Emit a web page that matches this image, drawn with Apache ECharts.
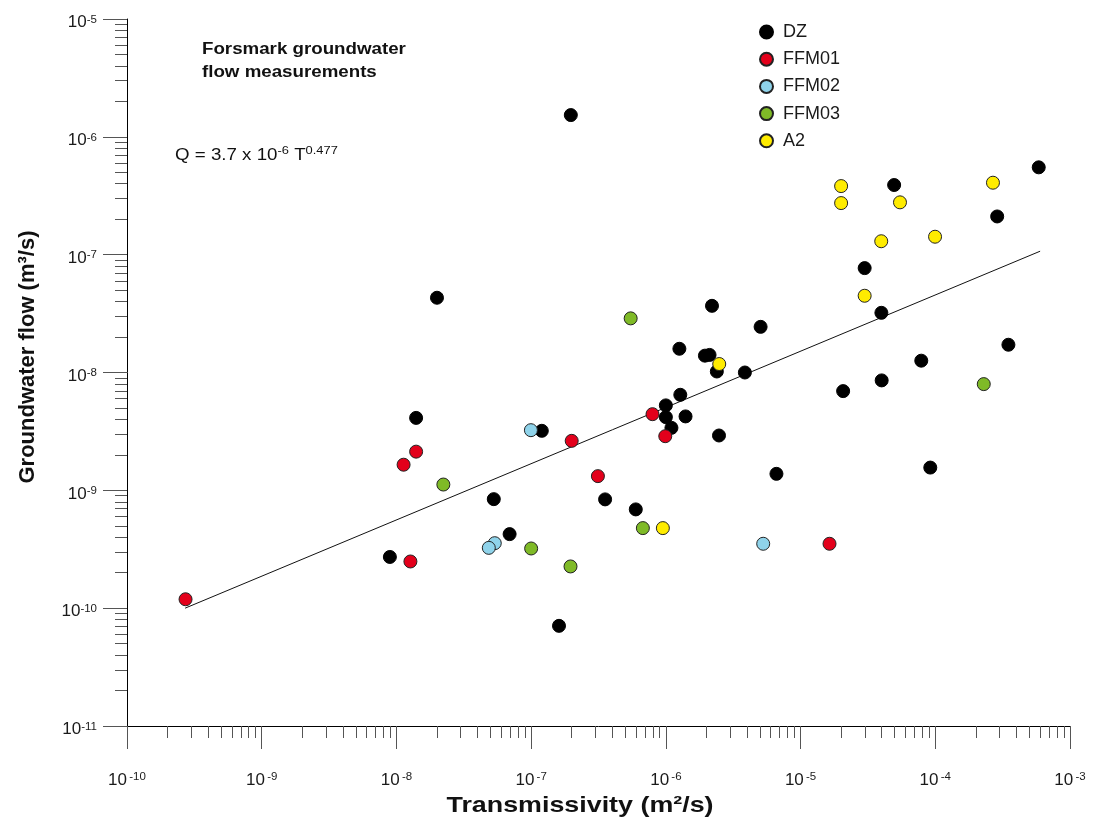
<!DOCTYPE html>
<html><head><meta charset="utf-8">
<script src="https://cdn.jsdelivr.net/npm/echarts@6/dist/echarts.min.js"></script>
<style>html,body{margin:0;padding:0;background:#fff}#chart{width:1094px;height:823px}</style>
</head><body><div id="chart"></div>
<script>
// ---- data ----
const dzT  = [1.97e-7, 2.0e-8, 1.40e-8, 1.20e-7, 5.28e-8, 8.94e-9, 6.92e-8, 1.61e-7, 3.54e-7, 5.98e-7, 2.99e-5, 3.98e-5, 2.20e-6, 5.05e-6, 1.26e-6, 1.95e-6, 2.11e-6, 2.39e-6, 3.86e-6, 1.28e-6, 1.00e-6, 1.00e-6, 1.40e-6, 1.10e-6, 2.48e-6, 6.62e-6, 2.07e-5, 4.0e-5, 7.87e-5, 3.49e-4, 9.18e-5, 4.95e-5, 5.86e-4, 2.88e-4];
const dzQ  = [1.53e-6, 4.31e-8, 4.12e-9, 3.20e-9, 8.42e-10, 2.72e-10, 4.25e-10, 7.08e-11, 8.38e-10, 6.89e-10, 7.69e-8, 3.21e-8, 3.68e-8, 2.44e-8, 1.59e-8, 1.39e-8, 1.41e-8, 1.02e-8, 1.00e-8, 6.47e-9, 5.26e-9, 4.18e-9, 4.24e-9, 3.39e-9, 2.92e-9, 1.38e-9, 6.95e-9, 8.57e-9, 1.26e-8, 1.72e-8, 1.56e-9, 3.90e-7, 5.51e-7, 2.11e-7];
const ffm01T = [2.72e-10, 1.13e-8, 1.40e-8, 1.27e-8, 2.0e-7, 3.13e-7, 7.96e-7, 9.9e-7, 1.64e-5];
const ffm01Q = [1.19e-10, 1.65e-9, 2.13e-9, 2.49e-10, 2.63e-9, 1.32e-9, 4.43e-9, 2.88e-9, 3.52e-10];
const ffm02T = [9.96e-8, 5.37e-8, 4.85e-8, 5.28e-6];
const ffm02Q = [3.24e-9, 3.56e-10, 3.25e-10, 3.52e-10];
const ffm03T = [2.23e-8, 1.0e-7, 1.96e-7, 6.75e-7, 5.48e-7, 2.29e-4];
const ffm03Q = [1.12e-9, 3.21e-10, 2.26e-10, 4.78e-10, 2.88e-8, 7.97e-9];
const a2T = [2.0e-5, 2.0e-5, 5.47e-5, 2.68e-4, 3.97e-5, 9.96e-5, 2.99e-5, 2.49e-6, 9.5e-7];
const a2Q = [3.82e-7, 2.74e-7, 2.78e-7, 4.08e-7, 1.30e-7, 1.42e-7, 4.48e-8, 1.18e-8, 4.78e-10];
const fitT = [2.7e-10, 6.0e-4];
const fitQ = [1.0e-10, 1.07e-7];
const seriesNames = ['DZ', 'FFM01', 'FFM02', 'FFM03', 'A2'];
const xExponents = [-10, -9, -8, -7, -6, -5, -4, -3];
const yExponents = [-11, -10, -9, -8, -7, -6, -5];
const minorMultipliers = [2, 3, 4, 5, 6, 7, 8, 9];

// ---- build ----
const FONT = 'Liberation Sans, Arial, Helvetica, sans-serif';
const pts = (T, Q) => T.map((t, i) => [Math.log10(t), Math.log10(Q[i])]);
const minorOf = exps => {
  const out = [];
  for (let i = 0; i < exps.length - 1; i++)
    minorMultipliers.forEach(m => out.push(exps[i] + Math.log10(m)));
  return out;
};
const colors = ['#000000', '#e3001b', '#8fd3ea', '#7fba27', '#ffec00'];
const dataSets = [pts(dzT, dzQ), pts(ffm01T, ffm01Q), pts(ffm02T, ffm02Q), pts(ffm03T, ffm03Q), pts(a2T, a2Q)];

const labRich = {
  b: {fontSize: 17, fontFamily: FONT, color: '#1a1a1a', lineHeight: 22},
  sp: {fontSize: 8, fontFamily: FONT, lineHeight: 22},
  e: {fontSize: 11.5, fontFamily: FONT, color: '#1a1a1a', verticalAlign: 'top', lineHeight: 13, padding: [2, 0, 0, 0]}
};
const tickStyle = {color: '#555', width: 1};
const SX = 1.17; // horizontal stretch of the reference's text

const chart = echarts.init(document.getElementById('chart'), null, {renderer: 'canvas'});
const option = {
  backgroundColor: '#fff',
  animation: false,
  grid: {left: 127, right: 24, top: 19, bottom: 97, containLabel: false},
  xAxis: [
    {type: 'value', min: xExponents[0], max: xExponents[xExponents.length - 1], interval: 1, position: 'bottom',
     axisLine: {show: true, lineStyle: {color: '#000', width: 1}},
     axisTick: {show: true, length: 23, lineStyle: tickStyle},
     splitLine: {show: false},
     axisLabel: {margin: 43, formatter: v => '{b|10}{sp| }{e|' + v + '}', rich: labRich}},
    {type: 'value', min: xExponents[0], max: xExponents[xExponents.length - 1], position: 'bottom',
     axisLine: {show: false},
     axisTick: {show: true, length: 12, lineStyle: tickStyle, customValues: minorOf(xExponents)},
     axisLabel: {show: false}, splitLine: {show: false}}
  ],
  yAxis: [
    {type: 'value', min: yExponents[0], max: yExponents[yExponents.length - 1], interval: 1, position: 'left',
     axisLine: {show: true, lineStyle: {color: '#000', width: 1}},
     axisTick: {show: true, length: 24, lineStyle: tickStyle},
     splitLine: {show: false},
     axisLabel: {margin: 30, padding: [7, 0, 0, 0], formatter: v => '{b|10}{e|' + v + '}', rich: labRich}},
    {type: 'value', min: yExponents[0], max: yExponents[yExponents.length - 1], position: 'left',
     axisLine: {show: false},
     axisTick: {show: true, length: 12, lineStyle: tickStyle, customValues: minorOf(yExponents)},
     axisLabel: {show: false}, splitLine: {show: false}}
  ],
  legend: {
    orient: 'vertical', left: 759, top: 23, padding: 0,
    itemWidth: 13, itemHeight: 13, itemGap: 9.2,
    data: seriesNames,
    textStyle: {fontSize: 18, fontFamily: FONT, color: '#1a1a1a', lineHeight: 14, padding: [0, 0, 0, 5]}
  },
  series: [
    {type: 'line', name: 'fit', data: pts(fitT, fitQ), showSymbol: false, symbol: 'none',
     lineStyle: {color: '#111', width: 1}, z: 1, silent: true}
  ].concat(seriesNames.map((n, i) => ({
    type: 'scatter', name: n, data: dataSets[i], symbol: 'circle', symbolSize: 13, z: 2 + i,
    itemStyle: {color: colors[i], borderColor: i === 0 ? '#000' : '#222', borderWidth: 1, opacity: 1}
  }))),
  graphic: [
    {type: 'text', x: 202, y: 38, scaleX: SX, style: {text: 'Forsmark groundwater\nflow measurements', font: 'bold 16px ' + FONT, lineHeight: 23, fill: '#111'}},
    {type: 'text', x: 175, y: 145, scaleX: SX, style: {
      text: '{n|Q = 3.7 x 10}{s|-6}{n| T}{s|0.477}',
      rich: {n: {fontSize: 16, fontFamily: FONT, fill: '#111', lineHeight: 22},
             s: {fontSize: 11, fontFamily: FONT, fill: '#111', verticalAlign: 'top', lineHeight: 13}}}},
    {type: 'text', x: 580, y: 806, scaleX: 1.22, style: {text: 'Transmissivity (m²/s)', font: 'bold 22px ' + FONT, fill: '#111', align: 'center', verticalAlign: 'middle'}},
    {type: 'text', x: 28, y: 357, rotation: Math.PI / 2, style: {text: 'Groundwater flow (m³/s)', font: 'bold 22px ' + FONT, fill: '#111', align: 'center', verticalAlign: 'middle'}}
  ]
};
chart.setOption(option);
</script></body></html>
